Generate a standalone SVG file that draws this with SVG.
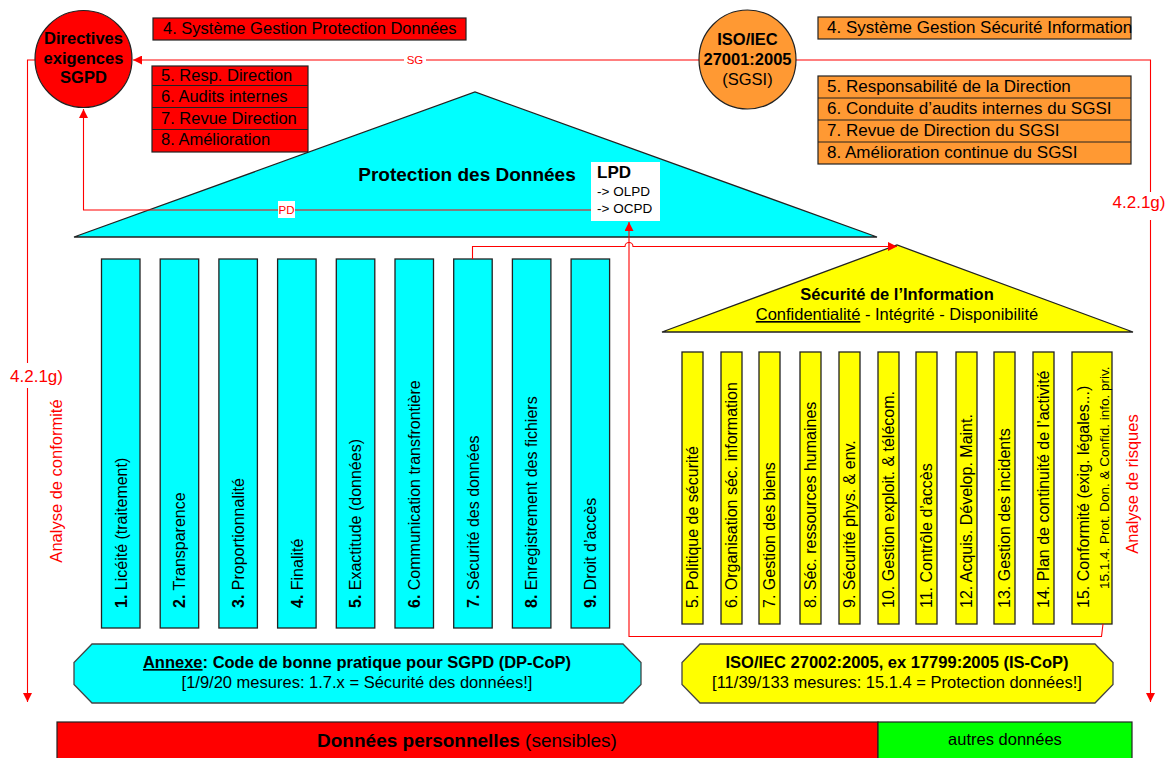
<svg xmlns="http://www.w3.org/2000/svg" width="1170" height="758" viewBox="0 0 1170 758">
<style>
text{font-family:"Liberation Sans",Arial,sans-serif;fill:#000}
.b{font-weight:bold}
.cy{fill:#00ffff;stroke:#222;stroke-width:1.3}
.ye{fill:#ffff00;stroke:#222;stroke-width:1.3}
.rd{fill:#ff0000;stroke:#222;stroke-width:1.2}
.or{fill:#ff9933;stroke:#222;stroke-width:1.2}
.gr{fill:#00ff00;stroke:#222;stroke-width:1.2}
.ln{fill:none;stroke:#ff0000;stroke-width:1.1}
.lab{fill:#ff0000}
.pt{font-size:16px}
.box{font-size:16.5px}
</style>
<defs>
<marker id="arr" viewBox="0 0 10 10" refX="10" refY="5" markerWidth="9" markerHeight="9" orient="auto" markerUnits="userSpaceOnUse"><path d="M0,0 L10,5 L0,10 z" fill="#ff0000"/></marker>
</defs>

<!-- bottom bar -->
<g id="donnees-personnelles">
<rect x="57" y="722" width="821" height="40" class="rd"/>
<text x="467" y="747" text-anchor="middle" style="font-size:19px"><tspan class="b">Données personnelles</tspan> (sensibles)</text>
</g>
<g id="autres-donnees">
<rect x="878" y="722" width="254" height="40" class="gr"/>
<text x="1005" y="745" text-anchor="middle" style="font-size:16.5px">autres données</text>
</g>

<!-- red management boxes -->
<g id="sgpd-4">
<rect x="153" y="18" width="313" height="22" class="rd"/>
<text x="163" y="33.5" class="box">4. Système Gestion Protection Données</text>
</g>
<g id="sgpd-5-8">
<rect x="152" y="66" width="156" height="86" class="rd"/>
<line x1="152" y1="85.5" x2="308" y2="85.5" stroke="#222"/>
<line x1="152" y1="107.5" x2="308" y2="107.5" stroke="#222"/>
<line x1="152" y1="129.5" x2="308" y2="129.5" stroke="#222"/>
<text x="161" y="80.5" class="box">5. Resp. Direction</text>
<text x="161" y="101.5" class="box">6. Audits internes</text>
<text x="161" y="123.5" class="box">7. Revue Direction</text>
<text x="161" y="145" class="box">8. Amélioration</text>
</g>

<!-- orange boxes -->
<g id="sgsi-4">
<rect x="818" y="17" width="313" height="22" class="or"/>
<text x="827" y="32.5" style="font-size:17px">4. Système Gestion Sécurité Information</text>
</g>
<g id="sgsi-5-8">
<rect x="818" y="76" width="313" height="88" class="or"/>
<line x1="818" y1="98" x2="1131" y2="98" stroke="#222"/>
<line x1="818" y1="120" x2="1131" y2="120" stroke="#222"/>
<line x1="818" y1="142" x2="1131" y2="142" stroke="#222"/>
<text x="827" y="92" style="font-size:17px">5. Responsabilité de la Direction</text>
<text x="827" y="114" style="font-size:17px">6. Conduite d’audits internes du SGSI</text>
<text x="827" y="136" style="font-size:17px">7. Revue de Direction du SGSI</text>
<text x="827" y="158" style="font-size:17px">8. Amélioration continue du SGSI</text>
</g>

<!-- cyan roof -->
<g id="protection-donnees">
<polygon points="74,237 475,92 877,237" class="cy"/>
<text x="467" y="181" text-anchor="middle" class="b" style="font-size:19px">Protection des Données</text>
</g>

<!-- yellow roof -->
<g id="securite-information">
<polygon points="662,332 897,245 1133,332" class="ye"/>
<text x="897" y="300" text-anchor="middle" class="b" style="font-size:16.5px">Sécurité de l’Information</text>
<text x="897" y="320" text-anchor="middle" style="font-size:16.5px"><tspan text-decoration="underline">Confidentialité</tspan> - Intégrité - Disponibilité</text>
</g>

<!-- cyan pillars -->
<g id="dp-1"><rect x="101.5" y="259" width="38.5" height="369" class="cy"/><text transform="translate(126.5,608) rotate(-90)" class="pt"><tspan class="b">1.</tspan>  Licéité (traitement)</text></g>
<g id="dp-2"><rect x="160.2" y="259" width="38.5" height="369" class="cy"/><text transform="translate(185.2,608) rotate(-90)" class="pt"><tspan class="b">2.</tspan> Transparence</text></g>
<g id="dp-3"><rect x="218.9" y="259" width="38.5" height="369" class="cy"/><text transform="translate(243.9,608) rotate(-90)" class="pt"><tspan class="b">3.</tspan> Proportionnalité</text></g>
<g id="dp-4"><rect x="277.6" y="259" width="38.5" height="369" class="cy"/><text transform="translate(302.6,608) rotate(-90)" class="pt"><tspan class="b">4.</tspan> Finalité</text></g>
<g id="dp-5"><rect x="336.3" y="259" width="38.5" height="369" class="cy"/><text transform="translate(361.3,608) rotate(-90)" class="pt"><tspan class="b">5.</tspan> Exactitude (données)</text></g>
<g id="dp-6"><rect x="395" y="259" width="38.5" height="369" class="cy"/><text transform="translate(420,608) rotate(-90)" class="pt"><tspan class="b">6.</tspan> Communication transfrontière</text></g>
<g id="dp-7"><rect x="453.7" y="259" width="38.5" height="369" class="cy"/><text transform="translate(478.7,608) rotate(-90)" class="pt"><tspan class="b">7.</tspan> Sécurité des données</text></g>
<g id="dp-8"><rect x="512.4" y="259" width="38.5" height="369" class="cy"/><text transform="translate(537.4,608) rotate(-90)" class="pt"><tspan class="b">8.</tspan> Enregistrement des fichiers</text></g>
<g id="dp-9"><rect x="571.1" y="259" width="38.5" height="369" class="cy"/><text transform="translate(596.1,608) rotate(-90)" class="pt"><tspan class="b">9.</tspan> Droit d’accès</text></g>

<!-- yellow pillars -->
<g id="is-5"><rect x="682" y="352" width="21" height="272" class="ye"/><text transform="translate(698,608) rotate(-90)" class="pt">5. Politique de sécurité</text></g>
<g id="is-6"><rect x="721" y="352" width="21" height="272" class="ye"/><text transform="translate(737,608) rotate(-90)" class="pt">6. Organisation séc. information</text></g>
<g id="is-7"><rect x="759" y="352" width="21" height="272" class="ye"/><text transform="translate(775,608) rotate(-90)" class="pt">7. Gestion des biens</text></g>
<g id="is-8"><rect x="800" y="352" width="21" height="272" class="ye"/><text transform="translate(816,608) rotate(-90)" class="pt">8. Séc. ressources humaines</text></g>
<g id="is-9"><rect x="839" y="352" width="21" height="272" class="ye"/><text transform="translate(855,608) rotate(-90)" class="pt">9. Sécurité phys. &amp; env.</text></g>
<g id="is-10"><rect x="878" y="352" width="21" height="272" class="ye"/><text transform="translate(894,608) rotate(-90)" class="pt">10. Gestion exploit. &amp; télécom.</text></g>
<g id="is-11"><rect x="916" y="352" width="21" height="272" class="ye"/><text transform="translate(932,608) rotate(-90)" class="pt">11. Contrôle d’accès</text></g>
<g id="is-12"><rect x="956" y="352" width="21" height="272" class="ye"/><text transform="translate(972,608) rotate(-90)" class="pt">12. Acquis. Dévelop. Maint.</text></g>
<g id="is-13"><rect x="994" y="352" width="21" height="272" class="ye"/><text transform="translate(1010,608) rotate(-90)" class="pt">13. Gestion des incidents</text></g>
<g id="is-14"><rect x="1033" y="352" width="21" height="272" class="ye"/><text transform="translate(1049,608) rotate(-90)" class="pt">14. Plan de continuité de l’activité</text></g>
<g id="is-15"><rect x="1072" y="352" width="40" height="272" class="ye"/><text transform="translate(1089,608) rotate(-90)" class="pt">15. Conformité (exig. légales...)</text><text transform="translate(1108.5,589) rotate(-90)" style="font-size:13.5px">15.1.4. Prot. Don. &amp; Confid. info. priv.</text></g>

<!-- bottom octagons -->
<g id="dp-cop">
<polygon points="92,644 623,644 641,662.5 641,684.5 623,703 92,703 74,684.5 74,662.5" class="cy" style="stroke:#444"/>
<text x="357" y="668" text-anchor="middle" class="b" style="font-size:16.5px"><tspan text-decoration="underline">Annexe</tspan>: Code de bonne pratique pour SGPD (DP-CoP)</text>
<text x="357" y="688" text-anchor="middle" style="font-size:16.5px">[1/9/20 mesures: 1.7.x = Sécurité des données!]</text>
</g>
<g id="is-cop">
<polygon points="700,644 1095,644 1113,662.5 1113,684.5 1095,703 700,703 682,684.5 682,662.5" class="ye" style="stroke:#444"/>
<text x="897" y="668" text-anchor="middle" class="b" style="font-size:16.5px">ISO/IEC 27002:2005, ex 17799:2005 (IS-CoP)</text>
<text x="897" y="688" text-anchor="middle" style="font-size:16.5px">[11/39/133 mesures: 15.1.4 = Protection données!]</text>
</g>

<!-- connectors -->
<g id="connectors">
<path class="ln" d="M699,60 H133" marker-end="url(#arr)"/>
<path class="ln" d="M796,60 H1150.5 V702" marker-end="url(#arr)"/>
<path class="ln" d="M35,60 H27.5 V702" marker-end="url(#arr)"/>
<path class="ln" d="M591,210 H83.5 V109" marker-end="url(#arr)"/>
<path class="ln" d="M472.5,259 V246.5 H625 A4,4 0 0 1 633,246.5 H897" marker-end="url(#arr)"/>
<path class="ln" d="M1103,624 L1101.5,636.5 H629 V222" marker-end="url(#arr)"/>
<rect x="404" y="53" width="22" height="14" fill="#fff"/>
<text x="415" y="64" text-anchor="middle" class="lab" style="font-size:11.5px">SG</text>
<rect x="278" y="201" width="17" height="17" fill="#fff"/>
<text x="286.5" y="214" text-anchor="middle" class="lab" style="font-size:11.5px">PD</text>
<rect x="9" y="363" width="56" height="25" fill="#fff"/>
<text x="36.5" y="382" text-anchor="middle" class="lab" style="font-size:17px">4.2.1g)</text>
<rect x="1112" y="192" width="55" height="28" fill="#fff"/>
<text x="1139" y="208" text-anchor="middle" class="lab" style="font-size:17px">4.2.1g)</text>
<text transform="translate(62,481) rotate(-90)" text-anchor="middle" class="lab" style="font-size:16.5px">Analyse de conformité</text>
<text transform="translate(1138,484) rotate(-90)" text-anchor="middle" class="lab" style="font-size:16.5px">Analyse de risques</text>
</g>

<!-- LPD box -->
<g id="lpd">
<rect x="591" y="162" width="69" height="59" fill="#fff"/>
<text x="597" y="178" class="b" style="font-size:17px">LPD</text>
<text x="597" y="196" style="font-size:13.5px">-&gt; OLPD</text>
<text x="597" y="213" style="font-size:13.5px">-&gt; OCPD</text>
</g>

<!-- circles -->
<g id="directives-sgpd">
<circle cx="83.5" cy="59" r="48.5" class="rd"/>
<text x="83.5" y="44" text-anchor="middle" class="b" style="font-size:16.5px">Directives</text>
<text x="83.5" y="63.5" text-anchor="middle" class="b" style="font-size:16.5px">exigences</text>
<text x="83.5" y="83" text-anchor="middle" class="b" style="font-size:16.5px">SGPD</text>
</g>
<g id="iso-27001">
<ellipse cx="747.5" cy="59.5" rx="48.5" ry="49.5" class="or"/>
<text x="747.5" y="45" text-anchor="middle" class="b" style="font-size:16.5px">ISO/IEC</text>
<text x="747.5" y="65" text-anchor="middle" class="b" style="font-size:16.5px">27001:2005</text>
<text x="747.5" y="85" text-anchor="middle" style="font-size:16.5px">(SGSI)</text>
</g>
</svg>
